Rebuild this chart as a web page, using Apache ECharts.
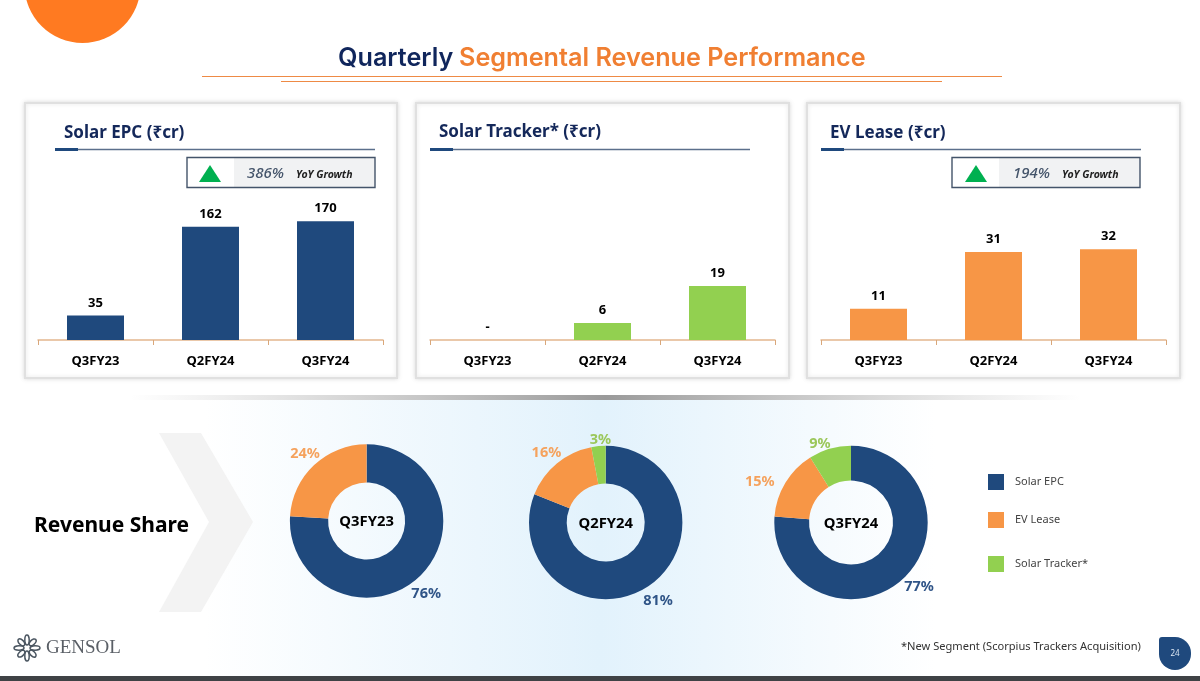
<!DOCTYPE html>
<html><head><meta charset="utf-8">
<style>html,body{margin:0;padding:0;background:#fff}#c{width:1200px;height:681px}</style>
<script src="https://cdn.jsdelivr.net/npm/echarts@6/dist/echarts.min.js"></script>
</head><body><div id="c"></div>
<script>
const quarters = ['Q3FY23','Q2FY24','Q3FY24'];
const solarEpc = [35,162,170];
const solarTracker = [0,6,19];
const evLease = [11,31,32];
const shareSegments = ['Solar EPC','EV Lease','Solar Tracker*'];
const shareQ3FY23 = [76,24,0];
const shareQ2FY24 = [81,16,3];
const shareQ3FY24 = [77,15,9];
const growthEpc = '386%';
const growthEv = '194%';

const NAVY='#1F497D', ORANGE='#F79646', GREEN='#92D050', FONT='"Noto Sans","Open Sans","DejaVu Sans",sans-serif';
const chart = echarts.init(document.getElementById('c'));

const panels = [
 {x:25,w:372,title:'Solar EPC (₹cr)',tx:64,ty:133,ax:38,vals:solarEpc,color:NAVY,max:272,ul:55,ur:375,growth:growthEpc,box:187,gy:{t:210,pct:247,yoy:296}},
 {x:416,w:373,title:'Solar Tracker* (₹cr)',tx:439,ty:132,ax:430,vals:solarTracker,color:GREEN,max:67,ul:430,ur:750},
 {x:807,w:373,title:'EV Lease (₹cr)',tx:830,ty:133,ax:821,vals:evLease,color:ORANGE,max:67,ul:821,ur:1141,growth:growthEv,box:952,gy:{t:976,pct:1013,yoy:1062}}
];

const g = [];
g.push({type:'rect',z:-10,shape:{x:0,y:400,width:1200,height:276},style:{fill:new echarts.graphic.LinearGradient(0,0,1,0,[
  {offset:0,color:'#ffffff'},{offset:.17,color:'#ffffff'},{offset:.5,color:'#e2f2fc'},{offset:.78,color:'#ffffff'},{offset:1,color:'#ffffff'}])}});
g.push({type:'rect',z:-9,shape:{x:130,y:395,width:950,height:5},style:{fill:new echarts.graphic.LinearGradient(0,0,1,0,[
  {offset:0,color:'rgba(150,150,150,0)'},{offset:.5,color:'rgba(120,120,120,.75)'},{offset:1,color:'rgba(150,150,150,0)'}])}});
g.push({type:'rect',z:-9,shape:{x:0,y:676,width:1200,height:5},style:{fill:'#3f4245'}});
g.push({type:'circle',z:-9,shape:{cx:82.5,cy:-15,r:58},style:{fill:'#FF7A21'}});
g.push({type:'polygon',z:-8,shape:{points:[[159,433],[201,433],[253,522],[201,612],[159,612],[209,522]]},style:{fill:'#f3f3f3'}});
// heading
g.push({type:'text',z:5,x:338,y:58,style:{text:'Quarterly',fill:'#10265c',font:'600 25.2px Inter,sans-serif',verticalAlign:'middle'}});
g.push({type:'text',z:5,x:459,y:58,style:{text:'Segmental Revenue Performance',fill:'#F07F32',font:'600 25.2px Inter,sans-serif',verticalAlign:'middle'}});
g.push({type:'line',z:5,shape:{x1:202,y1:76.5,x2:1002,y2:76.5},style:{stroke:'#EE8A45',lineWidth:1.2}});
g.push({type:'line',z:5,shape:{x1:281,y1:81.5,x2:942,y2:81.5},style:{stroke:'#EE8A45',lineWidth:1.2}});

panels.forEach(p=>{
  g.push({type:'rect',z:-7,shape:{x:p.x,y:103,width:p.w,height:275},style:{fill:'#fff',stroke:'#e0e0e0',lineWidth:2,shadowColor:'rgba(0,0,0,.12)',shadowBlur:4}});
  g.push({type:'text',z:5,x:p.tx,y:p.ty,style:{text:p.title,fill:'#14285a',font:'bold 17px '+FONT,verticalAlign:'middle'}});
  g.push({type:'line',z:5,shape:{x1:p.ul,y1:149.5,x2:p.ur,y2:149.5},style:{stroke:'#5b6f8c',lineWidth:1.4}});
  g.push({type:'rect',z:5,shape:{x:p.ul,y:148,width:23,height:3},style:{fill:NAVY}});
  if(p.growth){
    g.push({type:'rect',z:4,shape:{x:p.box+47,y:157,width:141,height:30},style:{fill:'#f1f2f3'}});
    g.push({type:'rect',z:5,shape:{x:p.box,y:157.5,width:188,height:30},style:{fill:'none',stroke:'#44546A',lineWidth:1.4}});
    g.push({type:'polygon',z:5,shape:{points:[[p.gy.t-11,182],[p.gy.t,165],[p.gy.t+11,182]]},style:{fill:'#00B050'}});
    g.push({type:'text',z:5,x:p.gy.pct,y:174,style:{text:p.growth,fill:'#44546A',font:'italic 500 15px '+FONT,verticalAlign:'middle'}});
    g.push({type:'text',z:5,x:p.gy.yoy,y:175,style:{text:'YoY Growth',fill:'#222',font:'italic bold 10.5px '+FONT,verticalAlign:'middle'}});
  }
});

g.push({type:'text',z:5,x:34,y:526.5,style:{text:'Revenue Share',fill:'#000',font:'bold 21px '+FONT,verticalAlign:'middle'}});
g.push({type:'text',z:5,x:901,y:647,style:{text:'*New Segment (Scorpius Trackers Acquisition)',fill:'#333',font:'11.1px '+FONT,verticalAlign:'middle'}});
g.push({type:'rect',z:5,shape:{x:1159,y:637,width:32,height:33,r:[3,16,16,16]},style:{fill:NAVY}});
g.push({type:'text',z:6,x:1175,y:654,style:{text:'24',fill:'#dbe6f3',font:'8px '+FONT,align:'center',verticalAlign:'middle'}});
// logo
for(let i=0;i<8;i++){
  const a=i*Math.PI/4;
  g.push({type:'ellipse',z:5,x:27+8*Math.sin(a),y:648-8*Math.cos(a),rotation:-a,shape:{cx:0,cy:0,rx:i%2?2.4:2.2,ry:i%2?4.2:5},style:{fill:'none',stroke:'#4a5560',lineWidth:1.5}});
}
g.push({type:'text',z:5,x:46,y:648,style:{text:'GENSOL',fill:'#5a5f66',font:'19px "Liberation Serif",serif',verticalAlign:'middle'}});

const pies = [
 {id:'Q3FY23',vals:shareQ3FY23,c:[366.6,521],inner:38.5,off:[[-53,6],[51,0],[0,0]]},
 {id:'Q2FY24',vals:shareQ2FY24,c:[605.7,522.5],inner:39,off:[[-49,3],[49,1],[49,9]]},
 {id:'Q3FY24',vals:shareQ3FY24,c:[851,522.5],inner:42,off:[[-44,-3],[37,7],[40,10]]}
];
const labelColors=['#2F5487','#F5A25D','#9BC75B'];
pies.forEach(p=>g.push({type:'text',z:5,x:p.c[0],y:p.c[1]+1,style:{text:p.id,fill:'#000',font:'bold 14.8px '+FONT,align:'center',verticalAlign:'middle'}}));

const option = {
  animation:false,
  backgroundColor:'#fff',
  graphic:{elements:g},
  color:[NAVY,ORANGE,GREEN],
  legend:[0,1,2].map(i=>({
    data:[shareSegments[i]],left:988,top:[474,512,556][i],itemWidth:16,itemHeight:16,orient:'vertical',
    selectedMode:false,icon:'rect',padding:0,
    textStyle:{color:'#444',fontSize:11,fontFamily:FONT,padding:[0,0,0,6]}
  })),
  grid:panels.map(p=>({left:p.ax,width:345,top:150,height:190})),
  xAxis:panels.map((p,i)=>({gridIndex:i,type:'category',data:quarters,
    axisLine:{lineStyle:{color:'#E3B68F',width:1.5}},
    axisTick:{show:true,length:5,alignWithLabel:false,lineStyle:{color:'#D9A77A',width:1}},
    axisLabel:{color:'#000',fontWeight:'bold',fontSize:13,fontFamily:FONT,margin:15}})),
  yAxis:panels.map((p,i)=>({gridIndex:i,type:'value',min:0,max:p.max,show:false})),
  series:[
    ...panels.map((p,i)=>({type:'bar',xAxisIndex:i,yAxisIndex:i,data:p.vals,barWidth:57,z:3,
      itemStyle:{color:p.color},
      label:{show:true,position:'top',distance:6,color:'#000',fontWeight:'bold',fontSize:13,fontFamily:FONT,
        formatter:v=>v.value===0?'-':v.value}})),
    ...pies.map(p=>({type:'pie',center:p.c,radius:[p.inner,76.7],startAngle:90,clockwise:true,z:3,
      data:p.vals.map((v,i)=>({name:shareSegments[i],value:v,label:{color:labelColors[i]}})).filter(d=>d.value>0),
      avoidLabelOverlap:false,
      itemStyle:{borderWidth:0},
      labelLine:{show:false},
      label:{show:true,position:'outside',formatter:'{c}%',fontWeight:'bold',fontSize:14.5,fontFamily:FONT},
      labelLayout:q=>{const o=p.off[q.dataIndex];return {dx:o[0],dy:o[1]};},
      emphasis:{disabled:true}
    }))
  ]
};
chart.setOption(option);
</script></body></html>
